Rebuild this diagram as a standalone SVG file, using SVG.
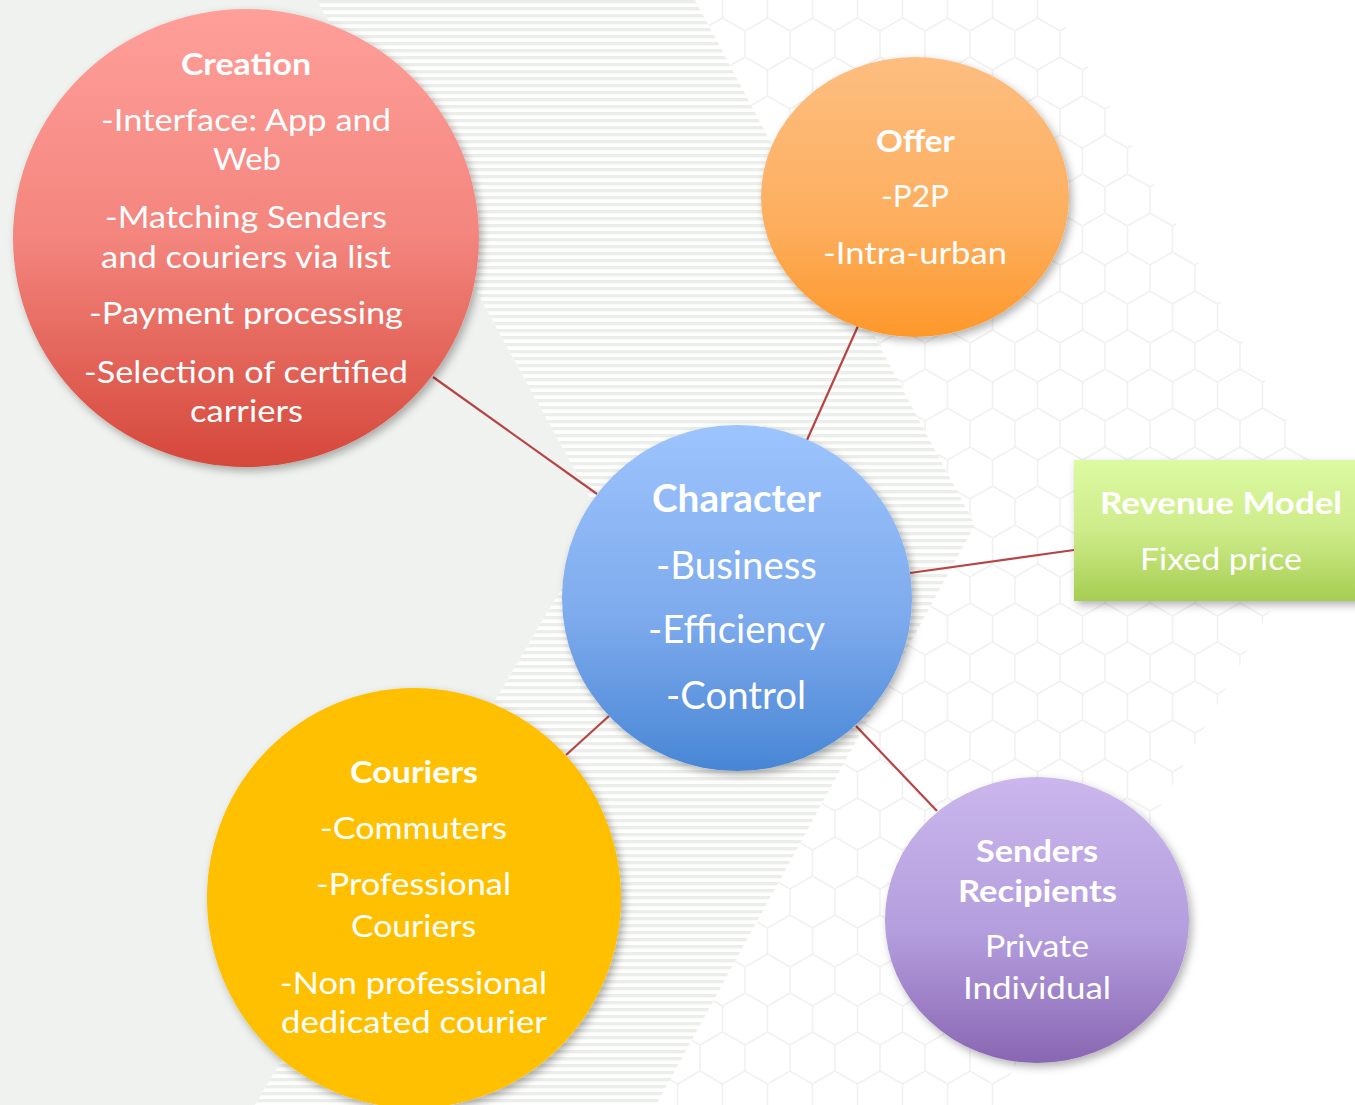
<svg xmlns="http://www.w3.org/2000/svg" width="1355" height="1105" viewBox="0 0 1355 1105">
<style>
.t{font-family:Lato,"Open Sans","Liberation Sans",sans-serif;fill:#ffffff;font-size:31px}
.b{font-weight:bold}
.c{font-size:38px}
.conn{stroke:#b84545;stroke-width:2.2;fill:none}
</style>
<defs>
<pattern id="stripes" width="20" height="7" patternUnits="userSpaceOnUse">
<rect width="20" height="7" fill="#ffffff"/>
<rect y="0" width="20" height="3.3" fill="#eceee9"/>
</pattern>
<pattern id="hex" width="45" height="78" patternUnits="userSpaceOnUse" patternTransform="translate(25,5)">
<path d="M22.5,13 L45,26 L45,52 L22.5,65 L0,52 L0,26 Z M22.5,0 L22.5,13 M22.5,65 L22.5,78" fill="none" stroke="#f1f1f1" stroke-width="1.6"/>
</pattern>
<linearGradient id="gRed" x1="0" y1="0" x2="0" y2="1"><stop offset="0" stop-color="#ff9f9a"/><stop offset="0.5" stop-color="#f3857d"/><stop offset="1" stop-color="#d5473a"/></linearGradient>
<linearGradient id="gOrange" x1="0" y1="0" x2="0" y2="1"><stop offset="0" stop-color="#fdbe80"/><stop offset="0.6" stop-color="#fdae5e"/><stop offset="1" stop-color="#fe982a"/></linearGradient>
<linearGradient id="gBlue" x1="0" y1="0" x2="0" y2="1"><stop offset="0" stop-color="#9dc4fd"/><stop offset="0.55" stop-color="#7eabed"/><stop offset="1" stop-color="#4886d5"/></linearGradient>
<linearGradient id="gGreen" x1="0" y1="0" x2="0" y2="1"><stop offset="0" stop-color="#dcfaa1"/><stop offset="0.5" stop-color="#ceec8a"/><stop offset="1" stop-color="#a6cd52"/></linearGradient>
<linearGradient id="gPurple" x1="0" y1="0" x2="0" y2="1"><stop offset="0" stop-color="#cbb7ed"/><stop offset="0.55" stop-color="#b39ddd"/><stop offset="1" stop-color="#8966b2"/></linearGradient>
<filter id="sh" x="-20%" y="-20%" width="140%" height="140%">
<feDropShadow dx="3" dy="4" stdDeviation="4" flood-color="#000" flood-opacity="0.3"/>
</filter>
</defs>

<g id="background">
<rect width="1355" height="1105" fill="#ffffff"/>
<polygon points="695,0 1050,0 1332,500 993,1105 656,1105 975,525" fill="url(#hex)"/>
<polygon points="317,0 695,0 975,525 656,1105 255,1105 602,520" fill="url(#stripes)"/>
<polygon points="0,0 317,0 602,520 255,1105 0,1105" fill="#f0f2ef"/>
</g>

<g id="connectors">
<line class="conn" x1="433" y1="377" x2="597" y2="494"/>
<line class="conn" x1="858" y1="326" x2="807" y2="440"/>
<line class="conn" x1="910" y1="573" x2="1074" y2="550"/>
<line class="conn" x1="609" y1="716" x2="566" y2="755"/>
<line class="conn" x1="856" y1="726" x2="937" y2="811"/>
</g>

<g id="creation">
<ellipse cx="246" cy="238" rx="233" ry="229" fill="url(#gRed)" filter="url(#sh)"/>
<text class="t b" x="181" y="75" textLength="130" lengthAdjust="spacingAndGlyphs">Creation</text>
<text class="t" x="101" y="131" textLength="290" lengthAdjust="spacingAndGlyphs">-Interface: App and</text>
<text class="t" x="213" y="170" textLength="68" lengthAdjust="spacingAndGlyphs">Web</text>
<text class="t" x="105" y="228" textLength="282" lengthAdjust="spacingAndGlyphs">-Matching Senders</text>
<text class="t" x="101" y="268" textLength="290" lengthAdjust="spacingAndGlyphs">and couriers via list</text>
<text class="t" x="89" y="324" textLength="314" lengthAdjust="spacingAndGlyphs">-Payment processing</text>
<text class="t" x="84" y="383" textLength="324" lengthAdjust="spacingAndGlyphs">-Selection of certified</text>
<text class="t" x="190" y="422" textLength="113" lengthAdjust="spacingAndGlyphs">carriers</text>
</g>

<g id="offer">
<ellipse cx="915" cy="197" rx="154" ry="140" fill="url(#gOrange)" filter="url(#sh)"/>
<text class="t b" x="876" y="152" textLength="79" lengthAdjust="spacingAndGlyphs">Offer</text>
<text class="t" x="881" y="207" textLength="68" lengthAdjust="spacingAndGlyphs">-P2P</text>
<text class="t" x="823" y="264" textLength="184" lengthAdjust="spacingAndGlyphs">-Intra-urban</text>
</g>

<g id="character">
<ellipse cx="737" cy="598" rx="175" ry="173" fill="url(#gBlue)" filter="url(#sh)"/>
<text class="t c b" x="652" y="512" textLength="169" lengthAdjust="spacingAndGlyphs">Character</text>
<text class="t c" x="656" y="579" textLength="161" lengthAdjust="spacingAndGlyphs">-Business</text>
<text class="t c" x="648" y="643" textLength="177" lengthAdjust="spacingAndGlyphs">-Efficiency</text>
<text class="t c" x="666" y="709" textLength="140" lengthAdjust="spacingAndGlyphs">-Control</text>
</g>

<g id="revenue-model">
<rect x="1074" y="460" width="300" height="141" fill="url(#gGreen)" filter="url(#sh)"/>
<text class="t b" x="1100" y="514" textLength="242" lengthAdjust="spacingAndGlyphs">Revenue Model</text>
<text class="t" x="1140" y="570" textLength="162" lengthAdjust="spacingAndGlyphs">Fixed price</text>
</g>

<g id="couriers">
<ellipse cx="414" cy="898" rx="207" ry="210" fill="#fec000" filter="url(#sh)"/>
<text class="t b" x="350" y="783" textLength="128" lengthAdjust="spacingAndGlyphs">Couriers</text>
<text class="t" x="320" y="839" textLength="187" lengthAdjust="spacingAndGlyphs">-Commuters</text>
<text class="t" x="316" y="895" textLength="195" lengthAdjust="spacingAndGlyphs">-Professional</text>
<text class="t" x="351" y="937" textLength="125" lengthAdjust="spacingAndGlyphs">Couriers</text>
<text class="t" x="280" y="994" textLength="267" lengthAdjust="spacingAndGlyphs">-Non professional</text>
<text class="t" x="281" y="1033" textLength="266" lengthAdjust="spacingAndGlyphs">dedicated courier</text>
</g>

<g id="senders-recipients">
<ellipse cx="1037" cy="920" rx="152" ry="143" fill="url(#gPurple)" filter="url(#sh)"/>
<text class="t b" x="976" y="862" textLength="122" lengthAdjust="spacingAndGlyphs">Senders</text>
<text class="t b" x="958" y="902" textLength="159" lengthAdjust="spacingAndGlyphs">Recipients</text>
<text class="t" x="985" y="957" textLength="104" lengthAdjust="spacingAndGlyphs">Private</text>
<text class="t" x="963" y="999" textLength="148" lengthAdjust="spacingAndGlyphs">Individual</text>
</g>
</svg>
